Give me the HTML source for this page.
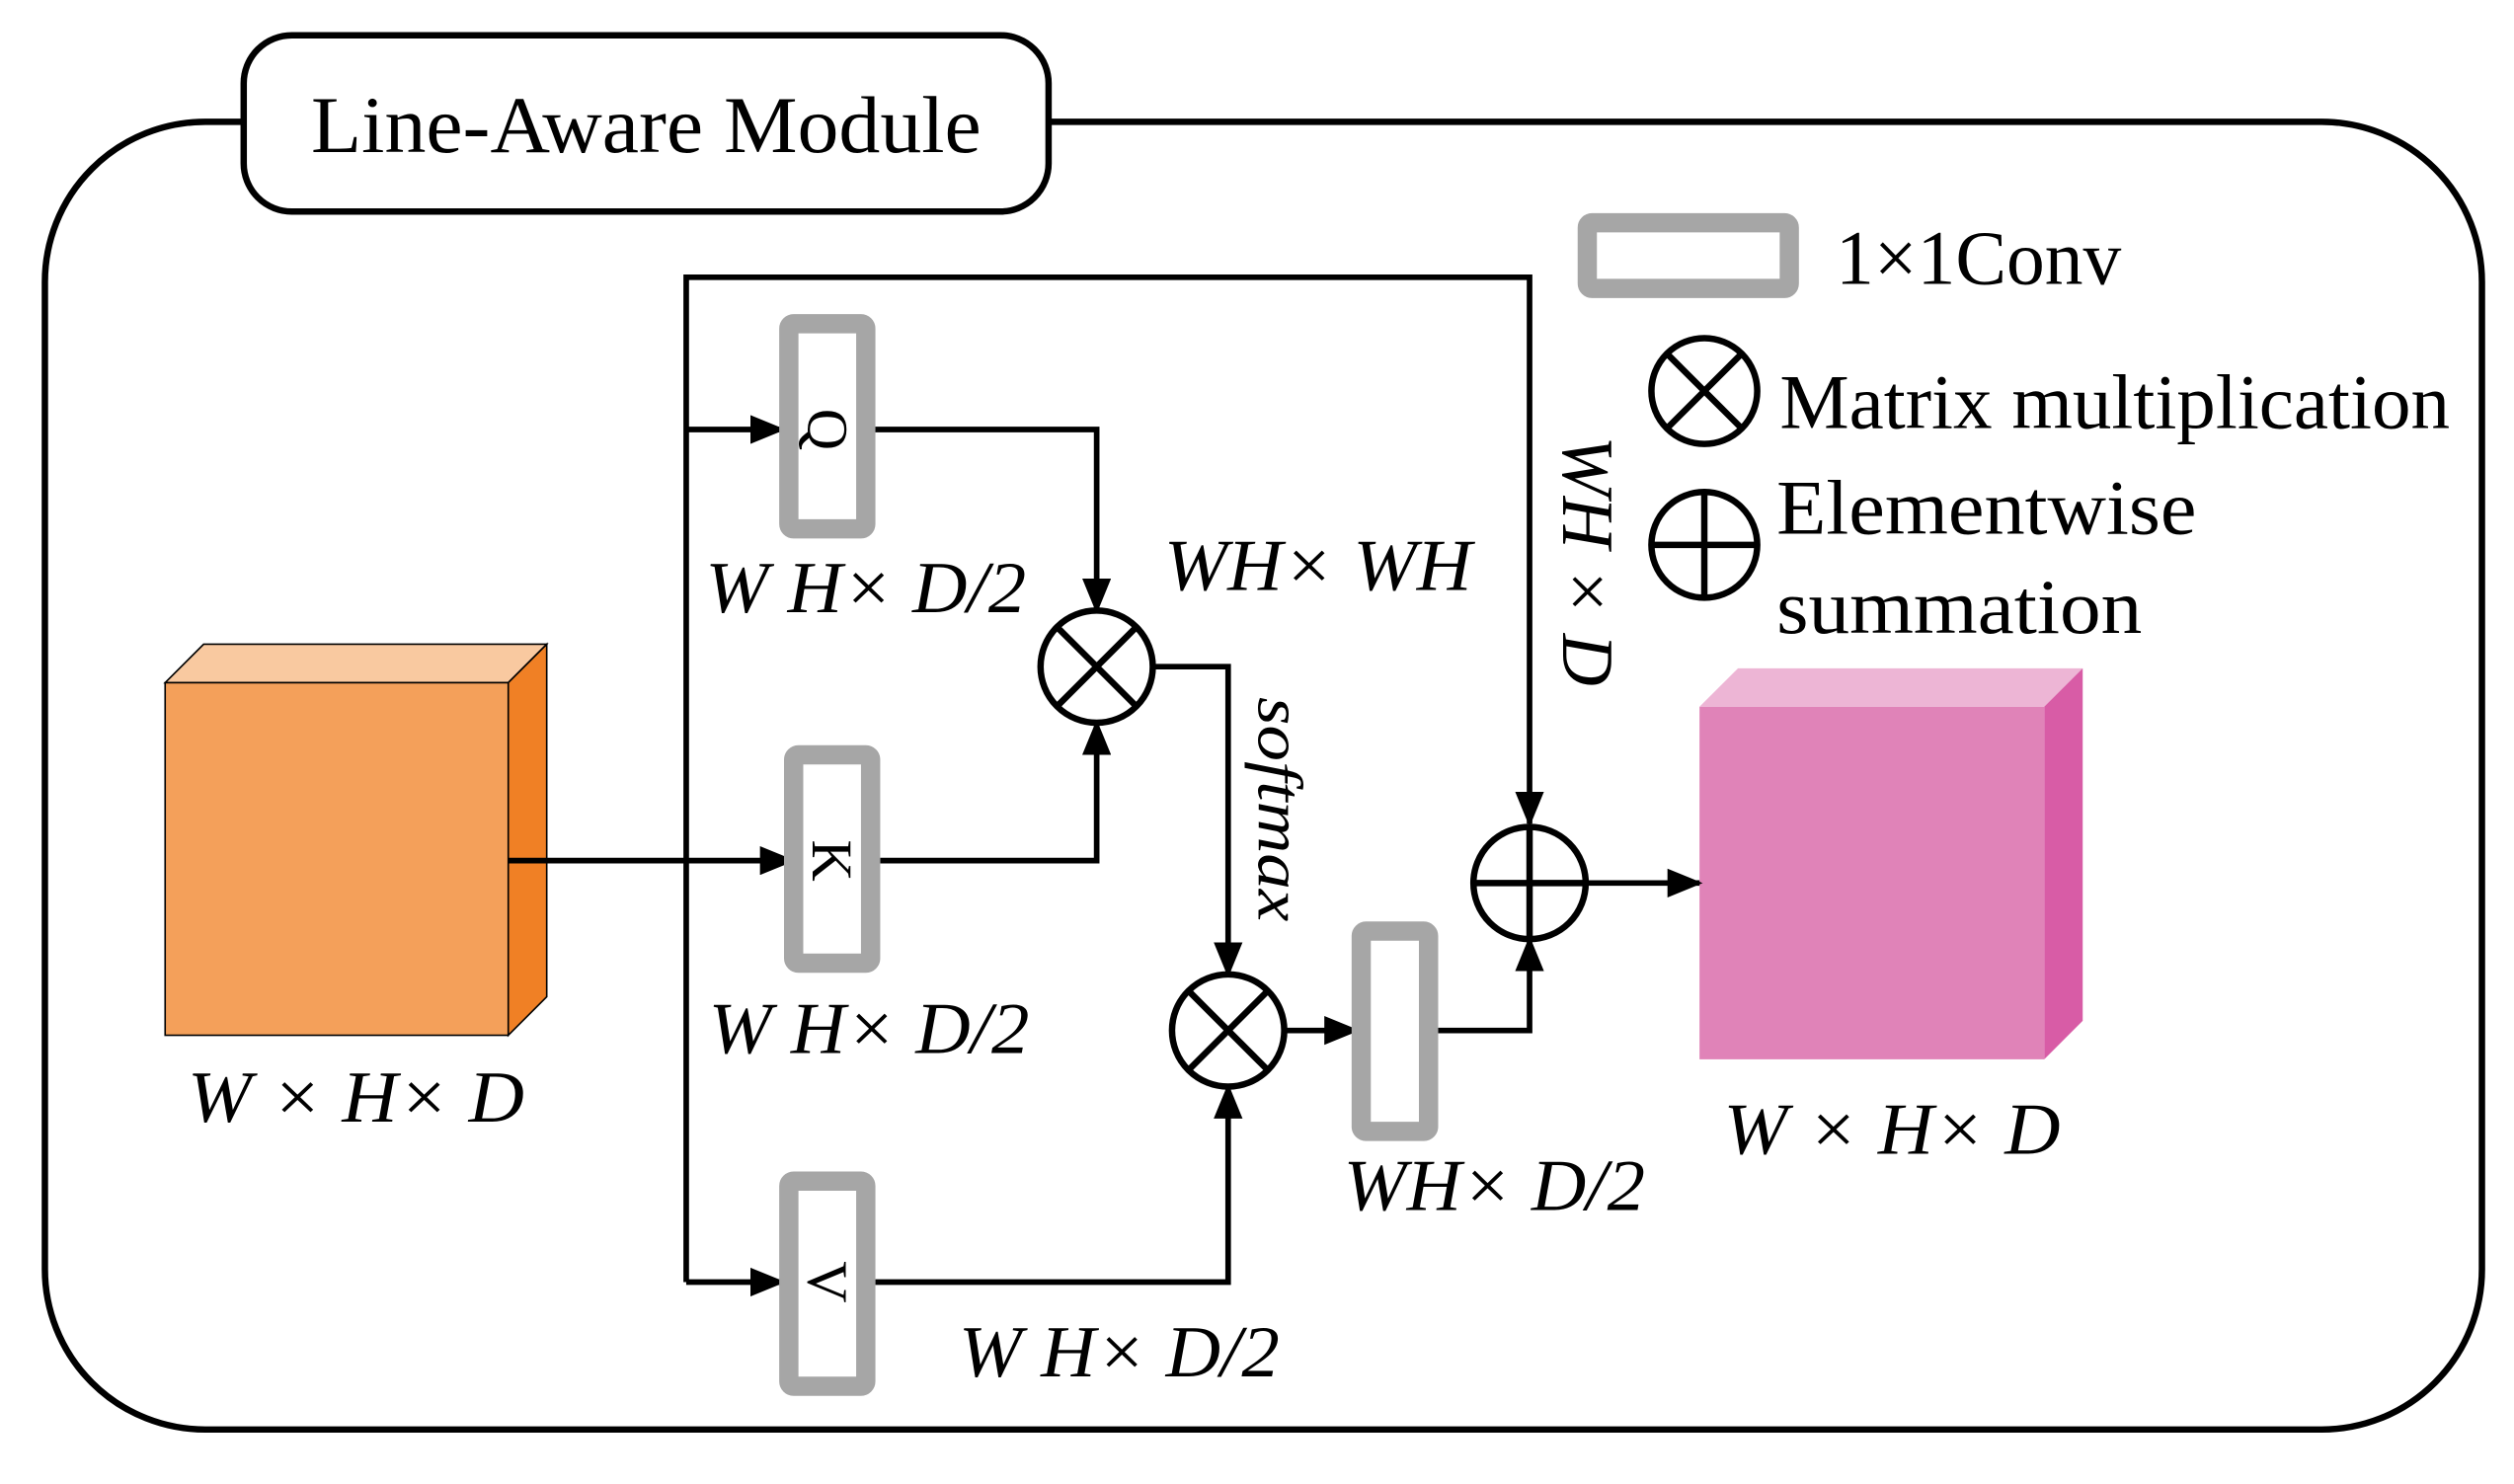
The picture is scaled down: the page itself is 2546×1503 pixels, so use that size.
<!DOCTYPE html>
<html><head><meta charset="utf-8"><style>
html,body{margin:0;padding:0;background:#fff;}
svg{display:block;}
text{font-family:"Liberation Serif",serif;fill:#000;}
.it{font-style:italic;}
</style></head><body>
<svg width="2546" height="1503" viewBox="0 0 1568 926" preserveAspectRatio="none" xmlns="http://www.w3.org/2000/svg">
<defs>
<marker id="ar" markerWidth="22" markerHeight="18" refX="20" refY="9" orient="auto" markerUnits="userSpaceOnUse" viewBox="0 0 22 18">
<path d="M0,0 L22,9 L0,18 z" fill="#000"/></marker>
</defs>
<rect x="28" y="76" width="1520" height="816" rx="100" fill="none" stroke="#000" stroke-width="4"/>
<rect x="152" y="22" width="502" height="110" rx="30" fill="#fff" stroke="#000" stroke-width="4"/>
<text x="403" y="95" font-size="50" text-anchor="middle" textLength="418" lengthAdjust="spacingAndGlyphs">Line-Aware Module</text>

<polygon points="103,426 127,402 341,402 317,426" fill="#F9C9A0" stroke="#000" stroke-width="1"/>
<polygon points="317,426 341,402 341,622 317,646" fill="#F08025" stroke="#000" stroke-width="1"/>
<rect x="103" y="426" width="214" height="220" fill="#F4A05A" stroke="#000" stroke-width="1"/>
<text class="it" x="222" y="700" font-size="46" text-anchor="middle" textLength="210" lengthAdjust="spacingAndGlyphs">W × H× D</text>

<polygon points="1060,441 1084,417 1299,417 1275,441" fill="#EDB5D5"/>
<polygon points="1275,441 1299,417 1299,637 1275,661" fill="#D85CA6"/>
<rect x="1060" y="441" width="215" height="220" fill="#E083B8"/>
<text class="it" x="1180" y="720" font-size="46" text-anchor="middle" textLength="210" lengthAdjust="spacingAndGlyphs">W × H× D</text>

<g stroke="#000" stroke-width="3.5" fill="none">
<polyline points="428,800 428,173 954,173 954,514" marker-end="url(#ar)"/>
<line x1="428" y1="268" x2="488" y2="268" marker-end="url(#ar)"/>
<line x1="317" y1="537" x2="494" y2="537" marker-end="url(#ar)"/>
<line x1="428" y1="800" x2="488" y2="800" marker-end="url(#ar)"/>
<polyline points="540,268 684,268 684,381" marker-end="url(#ar)"/>
<polyline points="549,537 684,537 684,451" marker-end="url(#ar)"/>
<polyline points="719,416 766,416 766,608" marker-end="url(#ar)"/>
<polyline points="546,800 766,800 766,678" marker-end="url(#ar)"/>
<line x1="801" y1="643" x2="846" y2="643" marker-end="url(#ar)"/>
<polyline points="897,643 954,643 954,586" marker-end="url(#ar)"/>
<line x1="989" y1="551" x2="1060" y2="551" marker-end="url(#ar)"/>
</g>

<g fill="#fff" stroke="#A6A6A6" stroke-width="12">
<rect x="492" y="202" width="48" height="128" rx="3"/>
<rect x="495" y="471" width="48" height="130" rx="3"/>
<rect x="492" y="737" width="48" height="128" rx="3"/>
<rect x="849" y="581" width="42" height="125" rx="3"/>
<rect x="990" y="139" width="126" height="41" rx="3"/>
</g>
<text x="516" y="268" font-size="36" text-anchor="middle" transform="rotate(90 516 268)" dy="12">Q</text>
<text x="519" y="537" font-size="36" text-anchor="middle" transform="rotate(90 519 537)" dy="12">K</text>
<text x="516" y="800" font-size="36" text-anchor="middle" transform="rotate(90 516 800)" dy="12">V</text>

<g stroke="#000" stroke-width="4" fill="#fff">
<circle cx="684" cy="416" r="35"/>
<circle cx="766" cy="643" r="35"/>
<circle cx="954" cy="551" r="35"/>
<circle cx="1063" cy="244" r="33"/>
<circle cx="1063" cy="340" r="33"/>
</g>
<g stroke="#000" stroke-width="4">
<line x1="659" y1="391" x2="709" y2="441"/><line x1="709" y1="391" x2="659" y2="441"/>
<line x1="741" y1="618" x2="791" y2="668"/><line x1="791" y1="618" x2="741" y2="668"/>
<line x1="919" y1="551" x2="989" y2="551"/><line x1="954" y1="516" x2="954" y2="586"/>
<line x1="1040" y1="221" x2="1086" y2="267"/><line x1="1086" y1="221" x2="1040" y2="267"/>
<line x1="1030" y1="340" x2="1096" y2="340"/><line x1="1063" y1="307" x2="1063" y2="373"/>
</g>

<text class="it" x="540" y="382" font-size="46" text-anchor="middle" textLength="200" lengthAdjust="spacingAndGlyphs">W H× D/2</text>
<text class="it" x="542" y="657" font-size="46" text-anchor="middle" textLength="200" lengthAdjust="spacingAndGlyphs">W H× D/2</text>
<text class="it" x="698" y="859" font-size="46" text-anchor="middle" textLength="200" lengthAdjust="spacingAndGlyphs">W H× D/2</text>
<text class="it" x="822" y="368" font-size="46" text-anchor="middle" textLength="192" lengthAdjust="spacingAndGlyphs">WH× WH</text>
<text class="it" x="932" y="755" font-size="46" text-anchor="middle" textLength="188" lengthAdjust="spacingAndGlyphs">WH× D/2</text>
<text class="it" x="797" y="505" font-size="40" text-anchor="middle" transform="rotate(90 797 505)" dy="12" textLength="140" lengthAdjust="spacingAndGlyphs">softmax</text>
<text class="it" x="990" y="350" font-size="46" text-anchor="middle" transform="rotate(90 990 350)" dy="15" textLength="156" lengthAdjust="spacingAndGlyphs">WH × D</text>

<text x="1145" y="177" font-size="48" textLength="178" lengthAdjust="spacingAndGlyphs">1×1Conv</text>
<text x="1110" y="267" font-size="48" textLength="418" lengthAdjust="spacingAndGlyphs">Matrix multiplication</text>
<text x="1108" y="333" font-size="48" textLength="262" lengthAdjust="spacingAndGlyphs">Elementwise</text>
<text x="1108" y="395" font-size="48" textLength="228" lengthAdjust="spacingAndGlyphs">summation</text>
</svg>
</body></html>
